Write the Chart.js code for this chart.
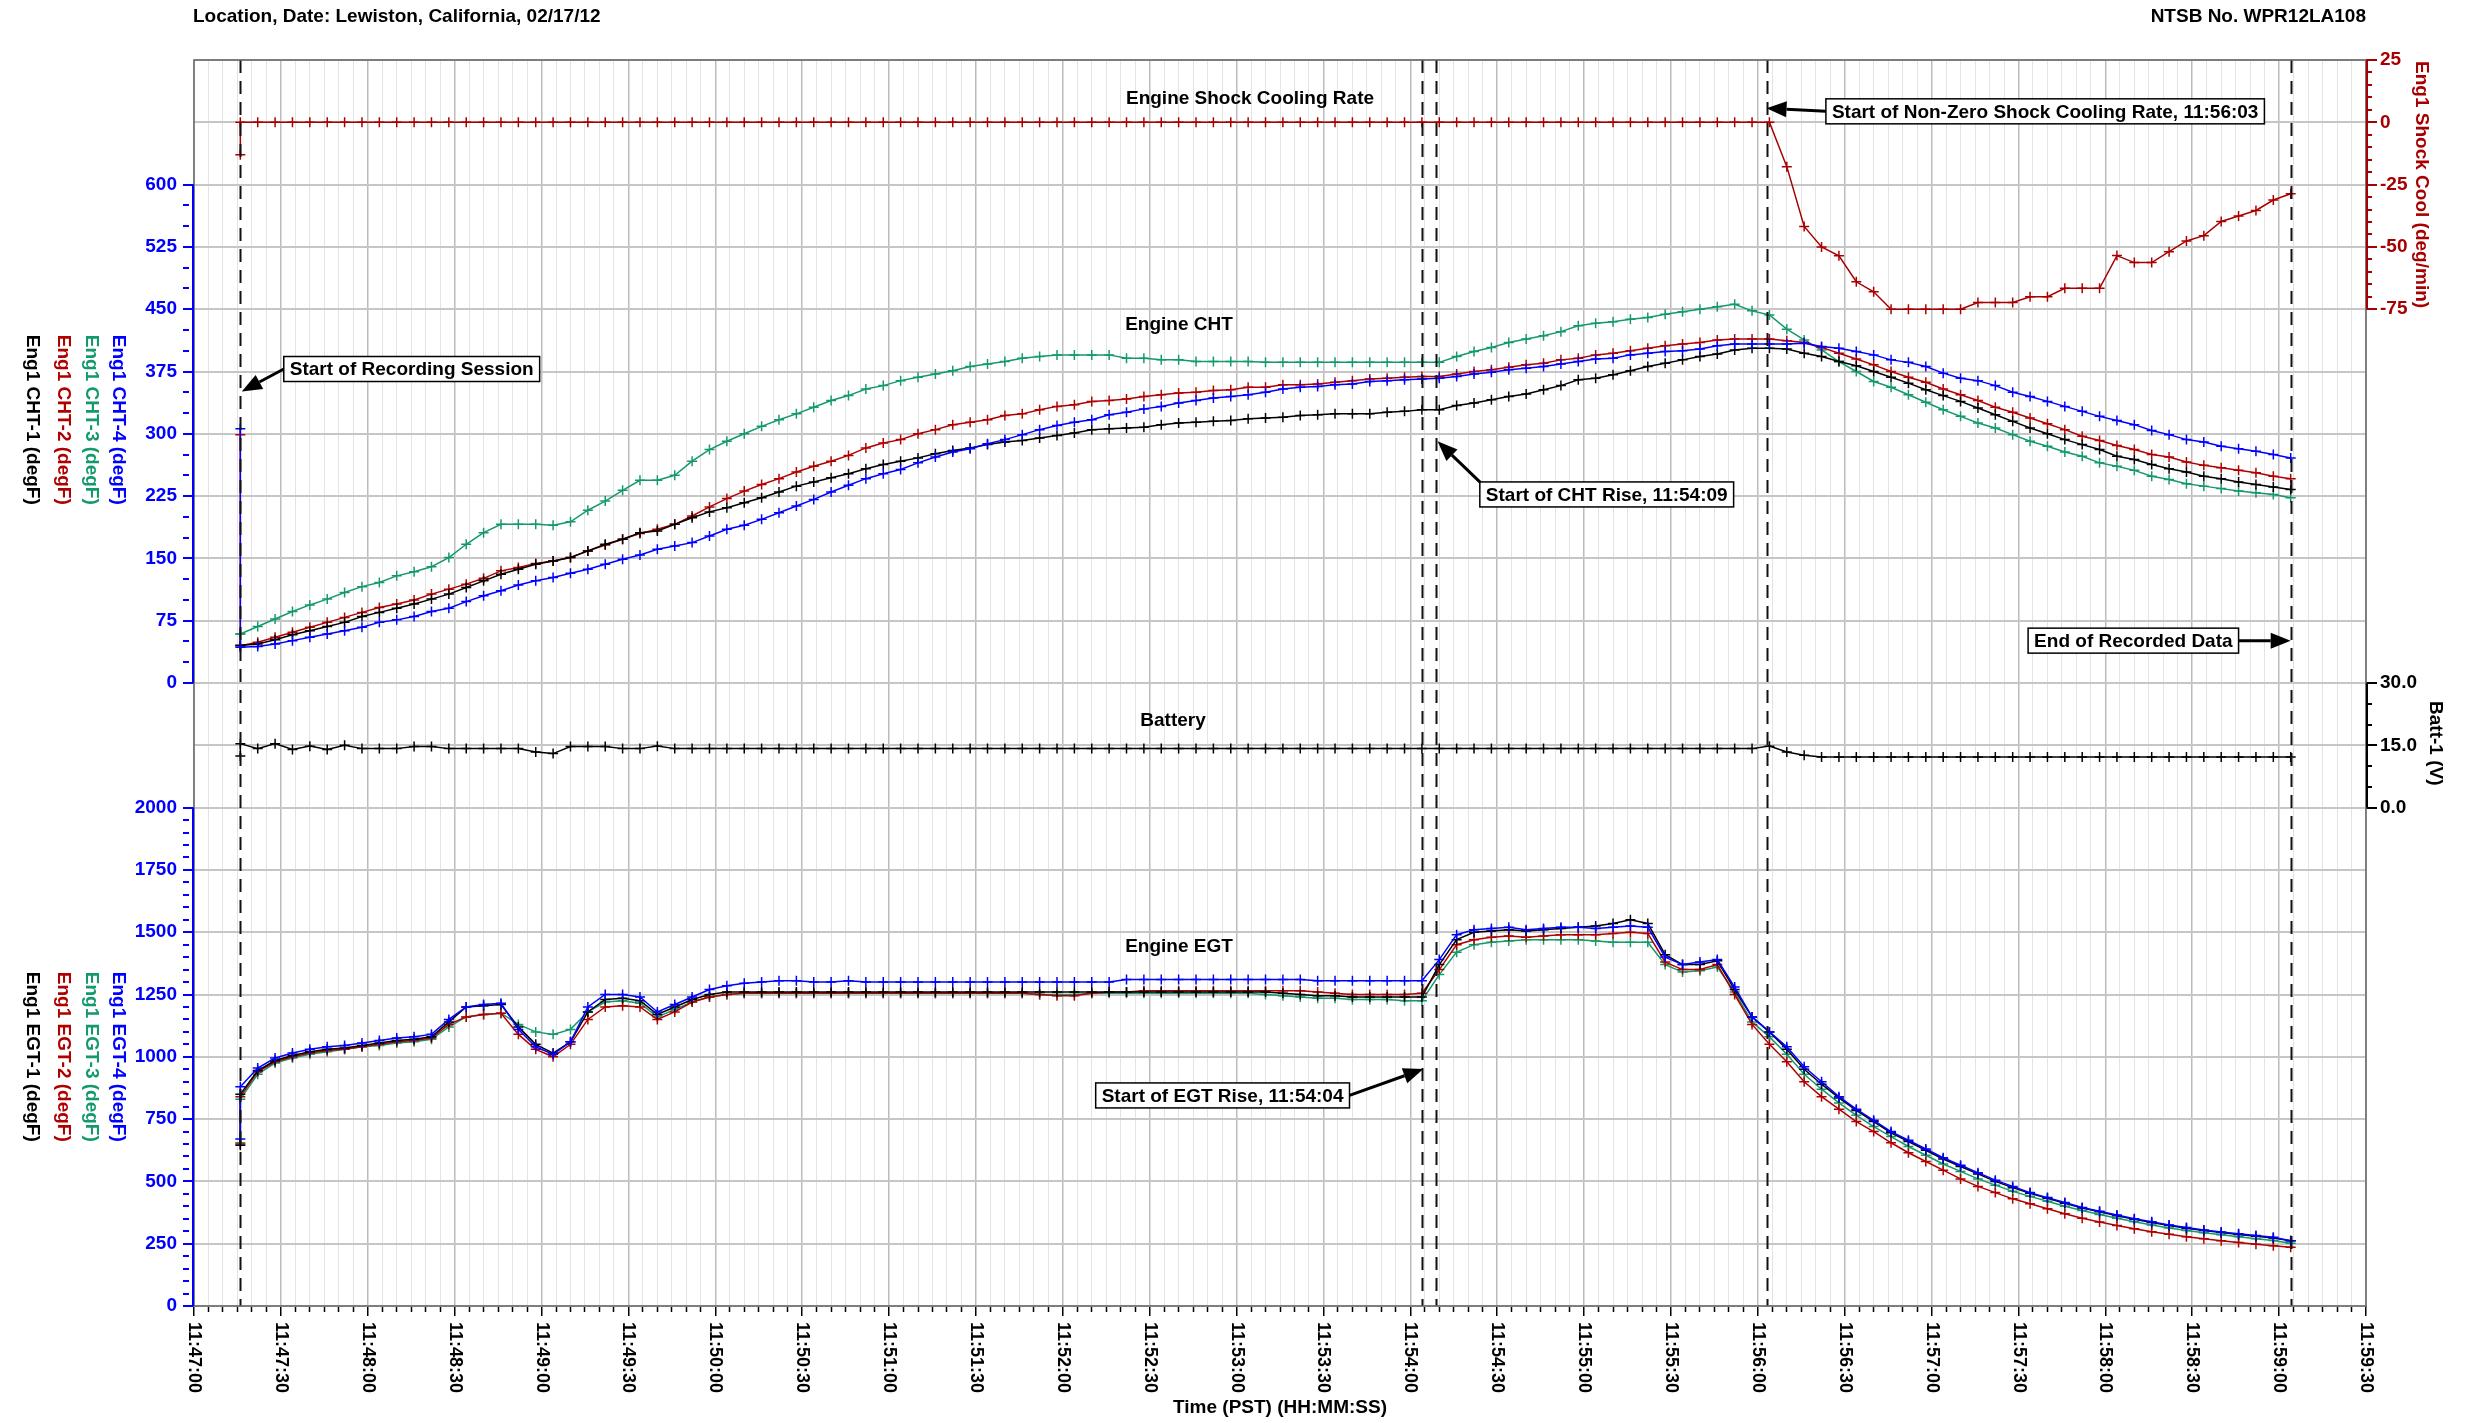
<!DOCTYPE html>
<html>
<head>
<meta charset="utf-8">
<title>Engine data - Lewiston, California</title>
<script src="https://cdn.jsdelivr.net/npm/chart.js@4.4.1/dist/chart.umd.min.js"></script>
<style>
  html, body { margin: 0; padding: 0; background: #fff; }
  #chartBox { width: 2465px; height: 1423px; }
</style>
</head>
<body>
<div id="chartBox"><canvas id="engineChart" width="2465" height="1423"></canvas></div>
<script>
// ------------------ DATA ------------------
// time in seconds after 11:47:00, one record every 6 s (first record is a start-up glitch)
const firstRecord = 16;
const recordStep = 6;
const recordCount = 119;

const cht1 = [45,
  45, 47, 52, 58, 63, 68, 73, 80, 85, 90, 95, 101, 107, 115, 123, 131, 137, 143, 147, 151,
  159, 167, 173, 181, 183, 191, 199, 206, 211, 217, 223, 230, 237, 242, 247, 252, 258, 263,
  267, 271, 276, 280, 283, 287, 290, 292, 295, 298, 301, 305, 306, 307, 308, 311, 313, 314, 315, 316,
  318, 319, 320, 322, 323, 324, 324, 324, 326, 327, 329, 329, 334, 337, 341, 345, 348, 353, 358,
  365, 367, 371, 376, 381, 385, 389, 393, 396, 401, 403, 403, 402, 397, 393, 387, 382, 375, 368, 361,
  353, 346, 339, 331, 323, 315, 307, 300, 293, 287, 281, 273, 269, 263, 258, 254, 249, 246, 242, 239, 236, 233];
const cht2 = [299,
  45, 49, 55, 61, 67, 73, 79, 85, 91, 95, 100, 107, 113, 119, 126, 135, 139, 144, 147, 151,
  159, 166, 173, 180, 185, 191, 201, 212, 222, 231, 239, 246, 254, 261, 267, 274, 283, 289,
  293, 300, 305, 311, 314, 317, 322, 324, 329, 333, 335, 339, 340, 342, 345, 347, 349, 350, 352, 353,
  356, 356, 359, 359, 360, 362, 364, 366, 367, 368, 369, 369, 372, 375, 377, 380, 383, 385, 389,
  391, 395, 397, 400, 403, 406, 408, 410, 413, 414, 414, 414, 412, 410, 404, 397, 390, 383, 375, 368,
  362, 354, 347, 340, 332, 326, 319, 312, 305, 297, 292, 286, 281, 275, 272, 266, 262, 259, 256, 253, 249, 246];
const cht3 = [59,
  59, 68, 77, 86, 94, 101, 109, 116, 121, 129, 134, 140, 151, 167, 181, 191, 191, 191, 190, 194,
  208, 219, 232, 244, 244, 250, 267, 281, 291, 300, 309, 317, 324, 332, 340, 346, 354, 358,
  364, 368, 372, 376, 381, 384, 387, 391, 393, 395, 395, 395, 395, 391, 391, 389, 389, 387,
  387, 387, 387, 386, 386, 386, 386, 386, 386, 386, 386, 386, 386, 386,
  393, 399, 404, 410, 414, 418, 423,
  430, 433, 435, 438, 440, 444, 447, 450, 453, 456, 448, 443, 426, 413, 401, 387, 375, 363, 356, 347,
  338, 329, 321, 313, 307, 299, 291, 285, 278, 273, 265, 261, 256, 249, 245, 240, 237, 234, 231, 229, 227, 223];
const cht4 = [306,
  43, 44, 47, 51, 55, 59, 63, 67, 73, 76, 80, 86, 90, 98, 105, 111, 118, 123, 127, 132,
  137, 143, 149, 154, 161, 165, 169, 177, 185, 190, 197, 205, 213, 221, 230, 238, 246, 252,
  257, 265, 272, 278, 282, 288, 293, 299, 305, 310, 314, 317, 323, 326, 330, 333, 337, 340, 343, 345,
  347, 350, 354, 356, 357, 359, 360, 363, 364, 365, 366, 367, 369, 372, 374, 377, 379, 381, 384,
  387, 390, 391, 395, 397, 399, 400, 402, 406, 408, 408, 408, 408, 409, 405, 403, 399, 395, 389, 386,
  381, 373, 367, 364, 358, 350, 345, 339, 333, 327, 321, 316, 311, 304, 299, 293, 290, 285, 282, 279, 275, 271];

const egt1 = [645,
  850, 945, 985, 1005, 1020, 1030, 1035, 1045, 1055, 1065, 1070, 1080, 1140, 1200, 1205, 1210, 1120, 1050, 1015, 1060,
  1180, 1230, 1235, 1225, 1170, 1200, 1230, 1250, 1260, 1260,
  1260, 1260, 1260, 1260, 1260, 1260, 1260, 1260, 1260, 1260, 1260, 1260, 1260, 1260, 1260,
  1260, 1260, 1260, 1260, 1260, 1260, 1260, 1260, 1260, 1260, 1260, 1260, 1260, 1260, 1260,
  1255, 1250, 1245, 1245, 1240, 1240, 1240, 1240, 1240,
  1370, 1470, 1500, 1505, 1510, 1505, 1510, 1515, 1520, 1525, 1535, 1550, 1535, 1410, 1370,
  1370, 1385, 1270, 1160, 1100, 1030, 950, 890, 835, 785, 740, 695, 660, 625, 590,
  560, 530, 500, 475, 452, 432, 412, 393, 378, 362, 348, 335, 323, 312, 303, 295, 287, 280, 273, 262];
const egt2 = [650,
  840, 940, 980, 1000, 1015, 1025, 1030, 1040, 1050, 1060, 1065, 1075, 1130, 1160, 1170, 1175, 1090, 1030, 1000, 1050,
  1150, 1200, 1205, 1200, 1150, 1180, 1220, 1240, 1250, 1255,
  1255, 1255, 1255, 1255, 1255, 1255, 1255, 1255, 1255, 1255, 1255, 1255, 1255, 1255, 1255, 1255,
  1250, 1245, 1245, 1255, 1260, 1260, 1265, 1265, 1265, 1265, 1265, 1265, 1265, 1265, 1265, 1265,
  1260, 1255, 1250, 1250, 1250, 1250, 1255,
  1350, 1450, 1470, 1480, 1485, 1480, 1485, 1490, 1490, 1490, 1495, 1500, 1495, 1380, 1350,
  1350, 1370, 1250, 1130, 1050, 980, 900, 840, 790, 740, 700, 655, 615, 580, 545,
  510, 480, 455, 430, 410, 390, 370, 352, 337, 323, 310, 298, 288, 278, 270, 262, 255, 248, 242, 236];
const egt3 = [655,
  830, 930, 975, 995, 1010, 1020, 1030, 1040, 1045, 1055, 1060, 1070, 1120, 1160, 1170, 1175, 1130, 1100, 1090, 1110,
  1180, 1220, 1225, 1215, 1160, 1190, 1220, 1240, 1250, 1255,
  1255, 1255, 1255, 1255, 1255, 1255, 1255, 1255, 1255, 1255, 1255, 1255, 1255, 1255, 1255, 1255,
  1250, 1250, 1250, 1255, 1255, 1255, 1255, 1255, 1255, 1255, 1255, 1255, 1255,
  1250, 1245, 1240, 1235, 1235, 1230, 1230, 1230, 1225, 1225,
  1330, 1420, 1450, 1460, 1465, 1470, 1470, 1470, 1470, 1465, 1460, 1460, 1460, 1370, 1340,
  1345, 1360, 1260, 1140, 1080, 1010, 930, 870, 815, 765, 720, 680, 640, 605, 570,
  540, 510, 485, 460, 440, 420, 400, 383, 367, 352, 338, 325, 313, 303, 294, 286, 278, 270, 263, 252];
const egt4 = [670,
  880, 955, 995, 1015, 1030, 1040, 1045, 1055, 1065, 1075, 1080, 1090, 1150, 1200, 1210, 1215, 1110, 1040, 1010, 1060,
  1200, 1250, 1250, 1240, 1180, 1210, 1240, 1270, 1285, 1295,
  1300, 1305, 1305, 1300, 1300, 1305, 1300, 1300, 1300, 1300, 1300, 1300, 1300, 1300, 1300,
  1300, 1300, 1300, 1300, 1300, 1300, 1310, 1310, 1310, 1310, 1310, 1310, 1310, 1310, 1310,
  1310, 1310, 1305, 1305, 1305, 1305, 1305, 1305, 1305,
  1390, 1490, 1510, 1515, 1520, 1510, 1515, 1520, 1520, 1515, 1520, 1525, 1520, 1400, 1370,
  1380, 1390, 1280, 1160, 1100, 1040, 960, 900, 840, 790, 745, 700, 665, 630, 595,
  565, 535, 505, 480, 455, 435, 415, 395, 380, 365, 350, 338, 325, 315, 305, 297, 290, 283, 276, 262];

const shockCool = [-13,
  0, 0, 0, 0, 0, 0, 0, 0, 0, 0, 0, 0, 0, 0, 0, 0, 0, 0, 0, 0,
  0, 0, 0, 0, 0, 0, 0, 0, 0, 0, 0, 0, 0, 0, 0, 0, 0, 0, 0, 0,
  0, 0, 0, 0, 0, 0, 0, 0, 0, 0, 0, 0, 0, 0, 0, 0, 0, 0, 0, 0,
  0, 0, 0, 0, 0, 0, 0, 0, 0, 0, 0, 0, 0, 0, 0, 0, 0, 0, 0, 0,
  0, 0, 0, 0, 0, 0, 0, 0, 0,
  -17.8, -41.8, -50, -53.6, -64, -68, -75, -75, -75, -75, -75, -72.3, -72.3, -72.3, -70,
  -70, -66.6, -66.6, -66.6, -53.5, -56.3, -56.3, -51.9, -47.6, -45.5, -39.8, -37.6, -35.4, -31.2, -28.7];

const batt1 = [12.4,
  15.4, 14.2, 15.4, 14.0, 14.8, 14.0, 15.0, 14.2, 14.2, 14.2, 14.7, 14.7, 14.2, 14.2, 14.2, 14.2, 14.2, 13.4, 13.0, 14.7,
  14.7, 14.7, 14.2, 14.2, 14.8, 14.2, 14.2, 14.2, 14.2, 14.2, 14.2, 14.2, 14.2, 14.2, 14.2, 14.2, 14.2, 14.2, 14.2, 14.2,
  14.2, 14.2, 14.2, 14.2, 14.2, 14.2, 14.2, 14.2, 14.2, 14.2, 14.2, 14.2, 14.2, 14.2, 14.2, 14.2, 14.2, 14.2, 14.2, 14.2,
  14.2, 14.2, 14.2, 14.2, 14.2, 14.2, 14.2, 14.2, 14.2, 14.2, 14.2, 14.2, 14.2, 14.2, 14.2, 14.2, 14.2, 14.2, 14.2, 14.2,
  14.2, 14.2, 14.2, 14.2, 14.2, 14.2, 14.2, 14.2, 14.8,
  13.4, 12.6, 12.2, 12.2, 12.2, 12.2, 12.2, 12.2, 12.2, 12.2, 12.2, 12.2, 12.2, 12.2, 12.2,
  12.2, 12.2, 12.2, 12.2, 12.2, 12.2, 12.2, 12.2, 12.2, 12.2, 12.2, 12.2, 12.2, 12.2, 12.2];

// event markers (s after 11:47:00)
const eventTimes = [16, 424, 429, 543, 724];

// ------------------ STYLE ------------------
const BLUE = "#0000ff";
const GREEN = "#149a6a";
const RED = "#b00000";
const BLACK = "#000000";
const SHOCK_RED = "#a80000";
const GRID = "#c6c6c6";
const FONT_FAMILY = '"Liberation Sans", Arial, sans-serif';
const BOLD19 = `bold 19px ${FONT_FAMILY}`;

const recordTimes = [firstRecord];
for (let k = 0; k < recordCount; k++) recordTimes.push(firstRecord + k * recordStep);

function toPoints(values) {
  return values.map((v, i) => ({ x: recordTimes[i], y: v }));
}

function clockLabel(sec) {
  const total = 11 * 3600 + 47 * 60 + sec;
  const h = Math.floor(total / 3600);
  const m = Math.floor((total % 3600) / 60);
  const s = total % 60;
  return `${h}:${String(m).padStart(2, "0")}:${String(s).padStart(2, "0")}`;
}

function makeSeries(label, values, axis, color) {
  return {
    label,
    data: toPoints(values),
    yAxisID: axis,
    borderColor: color,
    backgroundColor: color,
    borderWidth: 1.5,
    pointStyle: "cross",
    pointRadius: 5,
    pointBorderWidth: 1.5,
    pointBorderColor: color,
    tension: 0,
    fill: false,
  };
}

// stacked y axis builder: ticks every `step`, labels/grid every `major`, visible part [lo, hi]
function stackedAxis(opts) {
  const inRange = v => v >= opts.lo - 1e-6 && v <= opts.hi + 1e-6;
  const isMajor = v => Math.abs(v / opts.major - Math.round(v / opts.major)) < 1e-6;
  return {
    type: "linear",
    position: opts.position,
    stack: opts.position,
    stackWeight: opts.weight,
    min: opts.min,
    max: opts.max,
    border: { display: false },
    afterFit: scale => { scale.width = opts.width; },
    ticks: {
      stepSize: opts.step,
      autoSkip: false,
      padding: opts.position === "left" ? 6 : 3,
      color: opts.color,
      font: { family: FONT_FAMILY, size: 19, weight: "bold" },
      callback: v => (inRange(v) && isMajor(v) ? opts.format(v) : ""),
    },
    grid: {
      drawOnChartArea: opts.gridLines,
      color: ctx => (isMajor(ctx.tick.value) ? GRID : "rgba(0,0,0,0)"),
      lineWidth: 2,
      tickLength: 11,
      tickWidth: 2,
      tickColor: ctx => (inRange(ctx.tick.value) ? opts.color : "rgba(0,0,0,0)"),
      tickBorderDash: ctx => (isMajor(ctx.tick.value) ? [] : [6, 40]),
    },
  };
}

// ------------------ ANNOTATIONS ------------------
const notes = [
  { text: "Start of Recording Session", axis: "cht", boxAt: [31, 378], side: "left", tip: [16.5, 351], from: "left" },
  { text: "Start of CHT Rise, 11:54:09", axis: "cht", boxAt: [444, 227], side: "left", tip: [429.4, 291], from: "topleft" },
  { text: "Start of EGT Rise, 11:54:04", axis: "egt", boxAt: [399, 845], side: "right", tip: [424.5, 951], from: "right" },
  { text: "Start of Non-Zero Shock Cooling Rate, 11:56:03", axis: "shock", boxAt: [563.5, 4.4], side: "left", tip: [543, 5.6], from: "left" },
  { text: "End of Recorded Data", axis: "cht", boxAt: [706, 51], side: "right", tip: [724, 51], from: "right" },
];

function drawText(ctx, text, x, y, o = {}) {
  ctx.save();
  ctx.font = o.font || BOLD19;
  ctx.fillStyle = o.color || BLACK;
  ctx.textAlign = o.align || "center";
  ctx.textBaseline = o.baseline || "middle";
  ctx.translate(x, y);
  if (o.rotate) ctx.rotate(o.rotate);
  ctx.fillText(text, 0, 0);
  ctx.restore();
}

function drawArrow(ctx, x0, y0, x1, y1) {
  const ang = Math.atan2(y1 - y0, x1 - x0);
  const head = 20, half = 8;
  const bx = x1 - head * Math.cos(ang), by = y1 - head * Math.sin(ang);
  ctx.save();
  ctx.strokeStyle = BLACK;
  ctx.fillStyle = BLACK;
  ctx.lineWidth = 3;
  ctx.beginPath();
  ctx.moveTo(x0, y0);
  ctx.lineTo(bx, by);
  ctx.stroke();
  ctx.beginPath();
  ctx.moveTo(x1, y1);
  ctx.lineTo(bx + half * Math.sin(ang), by - half * Math.cos(ang));
  ctx.lineTo(bx - half * Math.sin(ang), by + half * Math.cos(ang));
  ctx.closePath();
  ctx.fill();
  ctx.restore();
}

const decorPlugin = {
  id: "engineDecor",
  beforeDraw(chart) {
    const ctx = chart.ctx;
    ctx.save();
    ctx.fillStyle = "#fff";
    ctx.fillRect(0, 0, chart.width, chart.height);
    ctx.restore();
  },
  afterDatasetsDraw(chart) {
    const { ctx, chartArea, scales } = chart;
    ctx.save();
    ctx.strokeStyle = "#111";
    ctx.lineWidth = 2;
    ctx.setLineDash([13, 8]);
    eventTimes.forEach(t => {
      const x = Math.round(scales.x.getPixelForValue(t)) + 0.5;
      ctx.beginPath();
      ctx.moveTo(x, chartArea.top);
      ctx.lineTo(x, chartArea.bottom);
      ctx.stroke();
    });
    ctx.restore();
  },
  afterDraw(chart) {
    const { ctx, chartArea: ca, scales } = chart;

    // plot frame
    ctx.save();
    ctx.strokeStyle = "#666";
    ctx.lineWidth = 1.5;
    ctx.strokeRect(ca.left, ca.top, ca.right - ca.left, ca.bottom - ca.top);
    ctx.restore();

    // axis lines (only the labelled span of each stacked axis)
    const axisLines = [
      ["cht", 0, 600, BLUE, ca.left - 1],
      ["egt", 0, 2000, BLUE, ca.left - 1],
      ["shock", -75, 25, SHOCK_RED, ca.right + 1],
      ["batt", 0, 30, BLACK, ca.right + 1],
    ];
    ctx.save();
    ctx.lineWidth = 2;
    axisLines.forEach(([id, lo, hi, color, x]) => {
      ctx.strokeStyle = color;
      ctx.beginPath();
      ctx.moveTo(x, scales[id].getPixelForValue(lo));
      ctx.lineTo(x, scales[id].getPixelForValue(hi));
      ctx.stroke();
    });
    ctx.restore();

    // x tick labels, rotated clockwise
    scales.x.ticks.forEach(tk => {
      if (tk.value % 30 !== 0) return;
      drawText(ctx, clockLabel(tk.value), scales.x.getPixelForValue(tk.value), ca.bottom + 16,
        { align: "left", rotate: Math.PI / 2, font: `bold 18px ${FONT_FAMILY}` });
    });
    drawText(ctx, "Time (PST) (HH:MM:SS)", (ca.left + ca.right) / 2, 1408);

    // header
    drawText(ctx, "Location, Date: Lewiston, California, 02/17/12", ca.left - 1, 17, { align: "left" });
    drawText(ctx, "NTSB No. WPR12LA108", ca.right, 17, { align: "right" });

    // left axis titles
    const chtMid = (scales.cht.getPixelForValue(0) + scales.cht.getPixelForValue(600)) / 2 - 14;
    const egtMid = (scales.egt.getPixelForValue(0) + scales.egt.getPixelForValue(2000)) / 2;
    const titleCols = [
      ["4", BLUE, 118], ["3", GREEN, 91], ["2", RED, 63], ["1", BLACK, 32],
    ];
    titleCols.forEach(([n, color, x]) => {
      drawText(ctx, `Eng1 CHT-${n} (degF)`, x, chtMid, { color, rotate: Math.PI / 2 });
      drawText(ctx, `Eng1 EGT-${n} (degF)`, x, egtMid, { color, rotate: Math.PI / 2 });
    });

    // right axis titles
    const shockMid = (scales.shock.getPixelForValue(25) + scales.shock.getPixelForValue(-75)) / 2;
    const battMid = (scales.batt.getPixelForValue(0) + scales.batt.getPixelForValue(30)) / 2 - 2;
    drawText(ctx, "Eng1 Shock Cool (deg/min)", ca.right + 55, shockMid, { color: SHOCK_RED, rotate: Math.PI / 2 });
    drawText(ctx, "Batt-1 (V)", ca.right + 69, battMid, { rotate: Math.PI / 2 });

    // panel titles
    drawText(ctx, "Engine Shock Cooling Rate", 1250, scales.shock.getPixelForValue(9.5));
    drawText(ctx, "Engine CHT", 1179, scales.cht.getPixelForValue(431));
    drawText(ctx, "Battery", 1173, scales.batt.getPixelForValue(21));
    drawText(ctx, "Engine EGT", 1179, scales.egt.getPixelForValue(1440));

    // callouts
    ctx.save();
    ctx.font = BOLD19;
    notes.forEach(n => {
      const ys = scales[n.axis];
      const w = ctx.measureText(n.text).width + 12;
      const h = 25;
      const ax = scales.x.getPixelForValue(n.boxAt[0]);
      const left = n.side === "left" ? ax : ax - w;
      const top = ys.getPixelForValue(n.boxAt[1]) - h / 2;
      const tipX = scales.x.getPixelForValue(n.tip[0]);
      const tipY = ys.getPixelForValue(n.tip[1]);
      let sx = left, sy = top + h / 2;
      if (n.from === "right") sx = left + w;
      if (n.from === "topleft") { sx = left + 1; sy = top + 1; }
      drawArrow(ctx, sx, sy, tipX, tipY);
      ctx.fillStyle = "#fff";
      ctx.fillRect(left, top, w, h);
      ctx.strokeStyle = BLACK;
      ctx.lineWidth = 1.5;
      ctx.strokeRect(left, top, w, h);
      drawText(ctx, n.text, left + w / 2, top + h / 2 + 1);
    });
    ctx.restore();
  },
};

// ------------------ CHART ------------------
const datasets = [
  makeSeries("Eng1 Shock Cool (deg/min)", shockCool, "shock", SHOCK_RED),
  makeSeries("Batt-1 (V)", batt1, "batt", BLACK),
  makeSeries("Eng1 CHT-4 (degF)", cht4, "cht", BLUE),
  makeSeries("Eng1 CHT-1 (degF)", cht1, "cht", BLACK),
  makeSeries("Eng1 CHT-2 (degF)", cht2, "cht", RED),
  makeSeries("Eng1 CHT-3 (degF)", cht3, "cht", GREEN),
  makeSeries("Eng1 EGT-4 (degF)", egt4, "egt", BLUE),
  makeSeries("Eng1 EGT-1 (degF)", egt1, "egt", BLACK),
  makeSeries("Eng1 EGT-2 (degF)", egt2, "egt", RED),
  makeSeries("Eng1 EGT-3 (degF)", egt3, "egt", GREEN),
];

const ctx = document.getElementById("engineChart").getContext("2d");
new Chart(ctx, {
  type: "line",
  data: { datasets },
  options: {
    responsive: false,
    animation: false,
    devicePixelRatio: 1,
    layout: { padding: { left: 98, right: 39, top: 60, bottom: 105 } },
    plugins: { legend: { display: false }, tooltip: { enabled: false }, title: { display: false } },
    scales: {
      x: {
        type: "linear",
        position: "bottom",
        min: 0,
        max: 750,
        border: { display: false },
        afterFit: scale => { scale.height = 12; },
        ticks: { stepSize: 5, autoSkip: false, display: false },
        grid: {
          color: c => (c.tick.value % 30 === 0 ? "#bcbcbc" : "#e3e3e3"),
          lineWidth: c => (c.tick.value % 30 === 0 ? 1.5 : 1),
          tickColor: "#000",
          tickWidth: 1.5,
          tickLength: 10,
          tickBorderDash: c => (c.tick.value % 30 === 0 ? [] : [6, 40]),
        },
      },
      egt: stackedAxis({ position: "left", weight: 9, min: 0, max: 2250, step: 50, major: 250,
        lo: 0, hi: 2000, color: BLUE, width: 96, gridLines: true, format: v => String(v) }),
      cht: stackedAxis({ position: "left", weight: 11, min: -75, max: 750, step: 25, major: 75,
        lo: 0, hi: 600, color: BLUE, width: 96, gridLines: true, format: v => String(v) }),
      shock: stackedAxis({ position: "right", weight: 8, min: -175, max: 25, step: 5, major: 25,
        lo: -75, hi: 25, color: SHOCK_RED, width: 60, gridLines: false, format: v => String(v) }),
      batt: stackedAxis({ position: "right", weight: 12, min: -120, max: 60, step: 5, major: 15,
        lo: 0, hi: 30, color: BLACK, width: 60, gridLines: false, format: v => v.toFixed(1) }),
    },
  },
  plugins: [decorPlugin],
});
</script>
</body>
</html>
